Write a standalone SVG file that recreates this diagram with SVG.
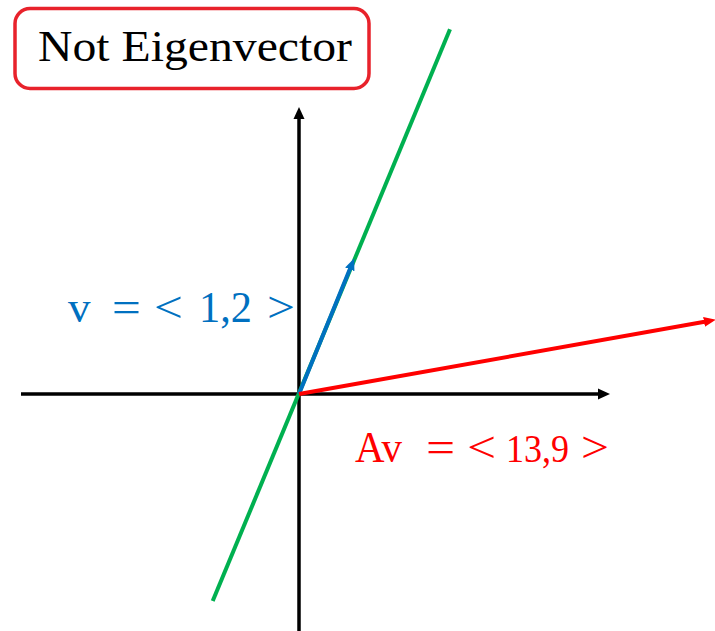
<svg xmlns="http://www.w3.org/2000/svg" width="715" height="631" viewBox="0 0 715 631">
<style>
.lbl{font-family:"Liberation Serif","DejaVu Serif",serif;font-size:45px}
.ax{stroke:#000;stroke-width:3.5;fill:none}
</style>
<defs>
<marker id="hk" markerUnits="userSpaceOnUse" markerWidth="14" markerHeight="14" viewBox="0 0 14 14" refX="2" refY="7" orient="auto"><path d="M0,1.5 L12,7 L0,12.5 Z" fill="#000"/></marker>
<marker id="hb" markerUnits="userSpaceOnUse" markerWidth="14" markerHeight="14" viewBox="0 0 14 14" refX="2" refY="7" orient="auto"><path d="M0,2 L12,7 L0,12 Z" fill="#0070C0"/></marker>
<marker id="hr" markerUnits="userSpaceOnUse" markerWidth="14" markerHeight="14" viewBox="0 0 14 14" refX="2" refY="7" orient="auto"><path d="M0,2 L12,7 L0,12 Z" fill="#FF0000"/></marker>
</defs>
<g id="title">
<rect x="15" y="8.5" width="354" height="80" rx="15" fill="#fff" stroke="#E8222B" stroke-width="3.5"/>
<text class="lbl" x="38" y="61" textLength="314" lengthAdjust="spacingAndGlyphs" fill="#000">Not Eigenvector</text>
</g>
<g id="connectors">
<line class="ax" x1="21" y1="394" x2="600" y2="394" marker-end="url(#hk)"/>
<line class="ax" x1="299" y1="631" x2="299" y2="117" marker-end="url(#hk)"/>
<line x1="212.7" y1="601" x2="450" y2="29.3" stroke="#00B050" stroke-width="4"/>
<line x1="299" y1="394" x2="350.5" y2="267.5" stroke="#0070C0" stroke-width="4" marker-end="url(#hb)"/>
<line x1="299" y1="394" x2="706" y2="321.5" stroke="#FF0000" stroke-width="4" marker-end="url(#hr)"/>
</g>
<g id="label-v" class="lbl" fill="#0070C0">
<text x="68" y="322">v</text>
<text x="112" y="322" textLength="29" lengthAdjust="spacingAndGlyphs">=</text>
<text x="154" y="322" textLength="29" lengthAdjust="spacingAndGlyphs">&lt;</text>
<text x="199" y="322" textLength="53" lengthAdjust="spacingAndGlyphs">1,2</text>
<text x="267" y="322" textLength="28" lengthAdjust="spacingAndGlyphs">&gt;</text>
</g>
<g id="label-av" class="lbl" fill="#FF0000">
<text x="355" y="462" textLength="47" lengthAdjust="spacingAndGlyphs">Av</text>
<text x="426" y="462" textLength="29" lengthAdjust="spacingAndGlyphs">=</text>
<text x="467" y="462" textLength="29" lengthAdjust="spacingAndGlyphs">&lt;</text>
<text x="506" y="462" font-size="41" textLength="63" lengthAdjust="spacingAndGlyphs">13,9</text>
<text x="581" y="462" textLength="28" lengthAdjust="spacingAndGlyphs">&gt;</text>
</g>
</svg>
